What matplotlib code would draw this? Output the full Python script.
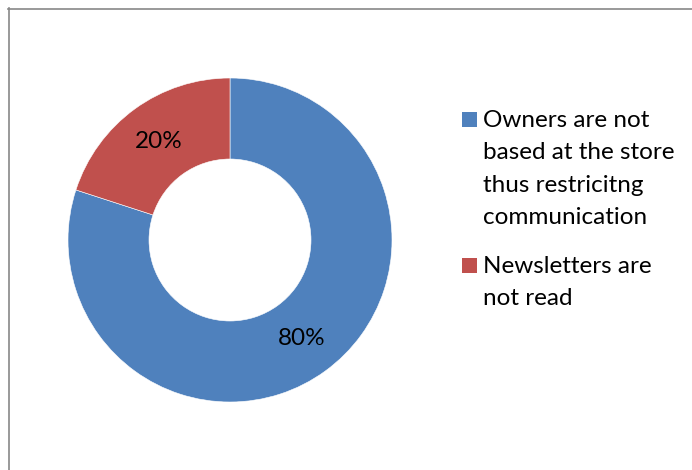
import matplotlib
matplotlib.use("Agg")
import matplotlib.pyplot as plt
from matplotlib.lines import Line2D
from matplotlib.patches import Rectangle

categories = [
    "Owners are not\nbased at the store\nthus restricitng\ncommunication",
    "Newsletters are\nnot read",
]
values = [80, 20]
colors = ["#4F81BD", "#C0504D"]

W, H = 692, 470
FS = 17.5
plt.rcParams["font.family"] = ["Lato", "DejaVu Sans"]
fig = plt.figure(figsize=(W / 100, H / 100), dpi=100)

# donut axes: center (230, 240) px from top, radius 162 px
cx, cy, R = 230, 240, 162
ax = fig.add_axes([(cx - R) / W, (H - cy - R) / H, 2 * R / W, 2 * R / H])
wedges, texts = ax.pie(
    values,
    colors=colors,
    startangle=90,
    counterclock=False,
    radius=1.0,
    labels=[f"{v}%" for v in values],
    labeldistance=0.75,
    wedgeprops=dict(width=0.5, edgecolor="white", linewidth=0.4),
    textprops=dict(fontsize=FS, color="black"),
)
for t in texts:
    t.set_ha("center")
    t.set_va("center")
ax.set_xlim(-1, 1)
ax.set_ylim(-1, 1)
ax.set_aspect("equal")
ax.axis("off")

# chart frame (left and top edges visible)
fig.add_artist(Line2D([8.5 / W, 8.5 / W], [0, 1 - 8 / H], transform=fig.transFigure,
                      color="#878787", lw=1.2))
fig.add_artist(Line2D([8 / W, 1], [1 - 8.5 / H, 1 - 8.5 / H], transform=fig.transFigure,
                      color="#878787", lw=1.2))

# legend
legend_tops = [110, 256]
for label, color, top in zip(categories, colors, legend_tops):
    fig.add_artist(Rectangle((462 / W, 1 - (top + 17) / H), 15 / W, 15 / H,
                             transform=fig.transFigure, facecolor=color, edgecolor="none"))
    fig.text(483 / W, 1 - top / H, label, ha="left", va="top", fontsize=FS,
             linespacing=1.67, color="black")

fig.savefig("out.png", dpi=100, facecolor="white")
